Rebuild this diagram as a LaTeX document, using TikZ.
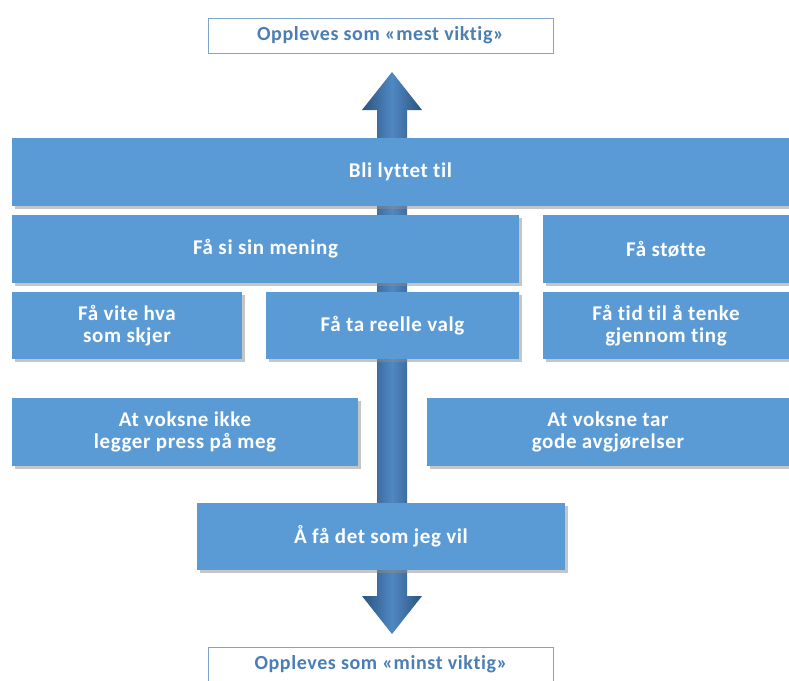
\documentclass[tikz,border=0pt]{standalone}
\usepackage{fontspec}
\setmainfont[Ligatures=NoCommon,LetterSpace=3]{Carlito}
\usetikzlibrary{shadows}

\definecolor{boxblue}{HTML}{5B9BD5}
\definecolor{labelblue}{HTML}{4A7EB5}
\definecolor{arrowdark}{HTML}{2B5380}
\definecolor{arrowlight}{HTML}{5088C2}

\tikzset{
  box/.style={rectangle, fill=boxblue, inner sep=0pt, align=center,
    text=white, font=\fontsize{21}{22.5}\selectfont\bfseries,
    drop shadow={shadow xshift=2.5pt, shadow yshift=-2.5pt, fill=black!45}},
  endlabel/.style={rectangle, draw=labelblue!70, fill=white, line width=0.8pt,
    inner sep=0pt, minimum width=345pt, minimum height=35pt,
    text=labelblue, font=\fontsize{20}{22}\selectfont\bfseries}
}

\begin{document}
\begin{tikzpicture}[x=1pt,y=-1pt]
\useasboundingbox (0,0) rectangle (789,680);
\clip (0,0) rectangle (789,680);

% the scale arrow behind the boxes
\shade[left color=arrowdark, right color=arrowdark, middle color=arrowlight]
  (392,72) -- (422,110) -- (407,110) -- (407,596) -- (422,596) -- (392,634)
  -- (362,596) -- (377,596) -- (377,110) -- (362,110) -- cycle;

\node[endlabel] (mest) at (380.5,35.5) {Oppleves som «mest viktig»};
\node[endlabel] (minst) at (381,664.5) {Oppleves som «minst viktig»};

\node[box, minimum width=777pt, minimum height=68pt] (lytte) at (400.5,172) {Bli lyttet til};

\node[box, minimum width=507pt, minimum height=68pt] (mening) at (265.5,249) {Få si sin mening};
\node[box, minimum width=246pt, minimum height=68pt] (stotte) at (666,249) {Få støtte};

\node[box, minimum width=230pt, minimum height=67pt] (vite) at (127,325.5) {Få vite hva\\som skjer};
\node[box, minimum width=253pt, minimum height=67pt] (valg) at (392.5,325.5) {Få ta reelle valg};
\node[box, minimum width=246pt, minimum height=67pt] (tid) at (666,325.5) {Få tid til å tenke\\gjennom ting};

\node[box, minimum width=346pt, minimum height=68pt] (press) at (185,432) {At voksne ikke\\legger press på meg};
\node[box, minimum width=362pt, minimum height=68pt] (avgjor) at (608,432) {At voksne tar\\gode avgjørelser};

\node[box, minimum width=368pt, minimum height=67pt] (vil) at (381,536.5) {Å få det som jeg vil};
\end{tikzpicture}
\end{document}
